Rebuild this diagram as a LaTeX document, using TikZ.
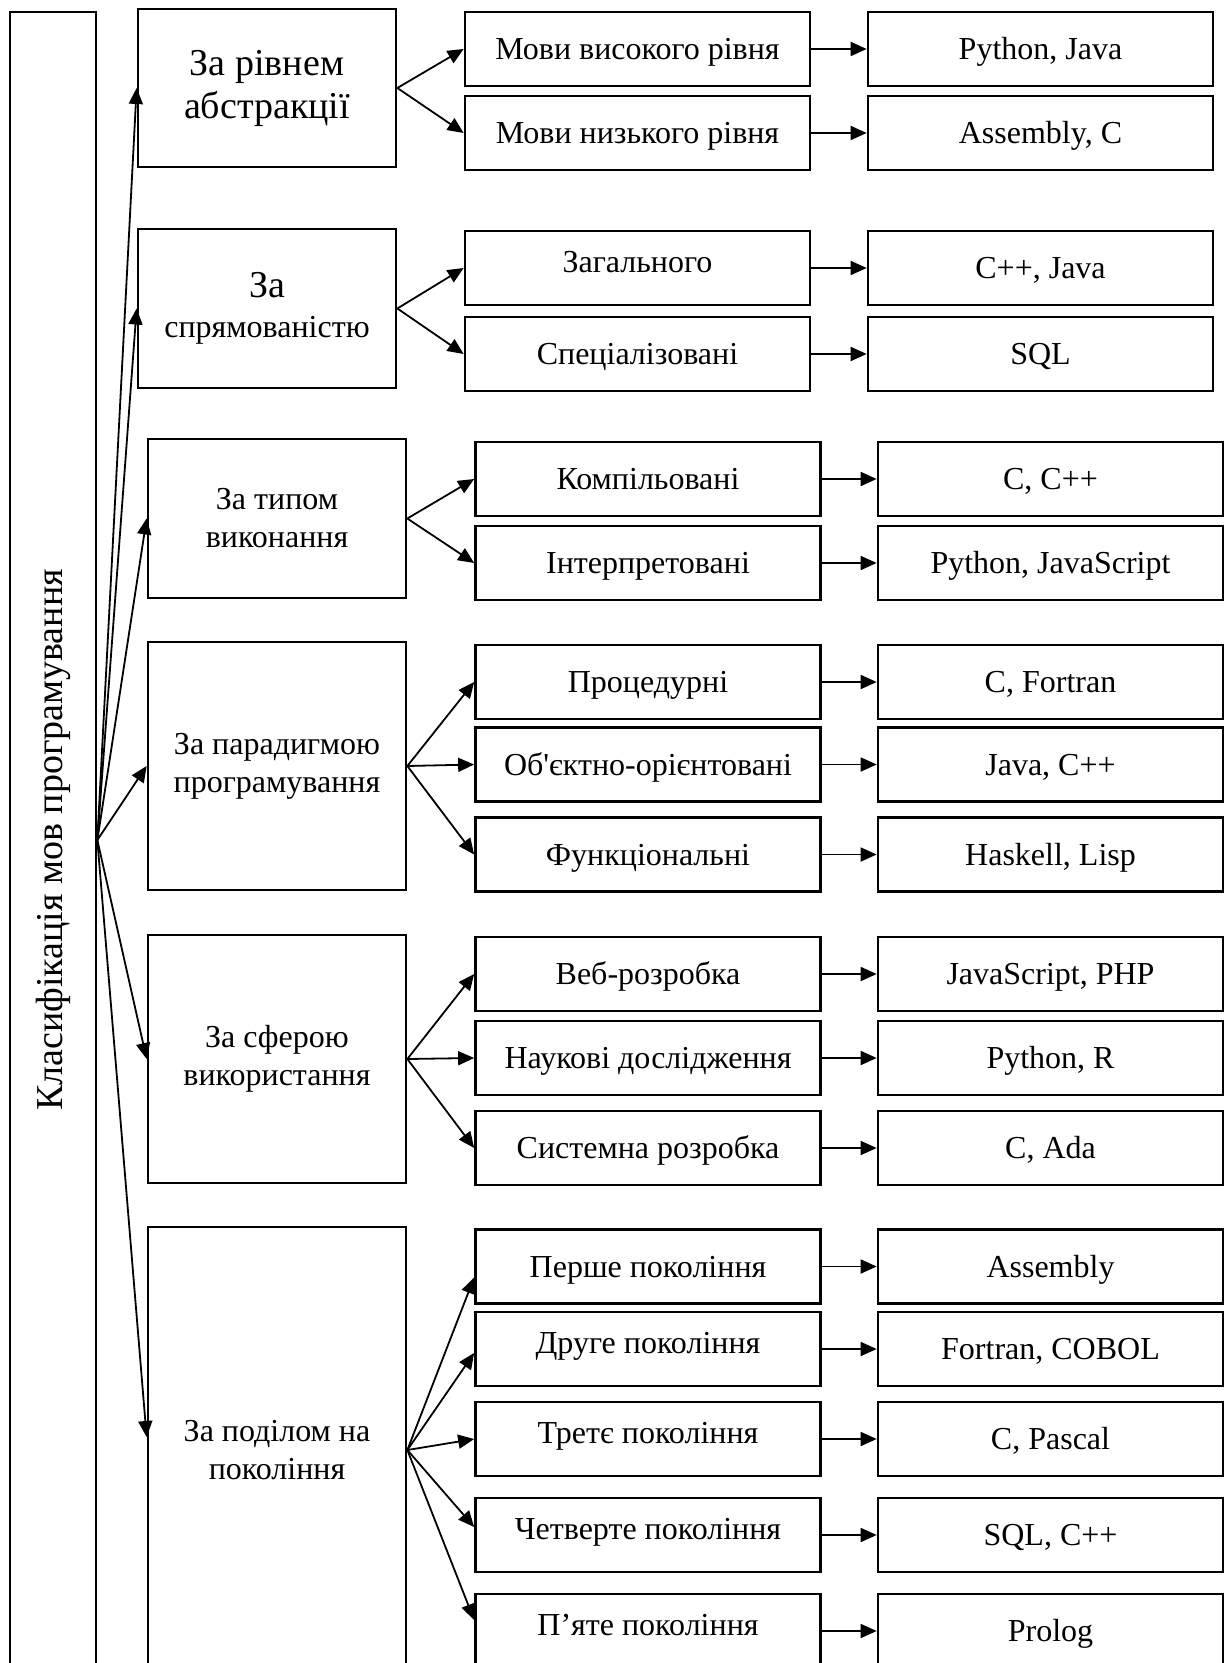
\documentclass[tikz,border=0pt]{standalone}
\usepackage{fontspec}
\setmainfont{Liberation Serif}[Ligatures=TeXOff]
\usetikzlibrary{arrows.meta}
\newcommand\mysmallfont{\fontsize{16pt}{19pt}\selectfont}
\newcommand\mybigfont{\fontsize{19pt}{21.5pt}\selectfont}
\begin{document}
\begin{tikzpicture}[x=0.5pt,y=-0.5pt,
  box/.style={draw, line width=1.35pt, inner sep=0pt, align=center, font=\mysmallfont},
  cat/.style={box, minimum width=129pt},
  leaf/.style={box, minimum width=172.5pt, minimum height=37pt, text height=10.9pt, text depth=0pt},
  textup/.style={text depth=6.5pt},
  arr/.style={line width=0.9pt, -{Triangle[length=8pt,width=7pt]}}]
\useasboundingbox (0,0) rectangle (1225,1663);
\clip (0,0) rectangle (1225,1663);
% main box
\node[box, minimum width=43pt, minimum height=828pt] (main) at (53,840) {};
\node[rotate=90, font=\mybigfont, inner sep=0pt] (title) at (main.center) {Класифікація мов програмування};
% group 1
\node[cat, minimum height=79pt, font=\mybigfont] (g1) at (267,88) {За рівнем\\абстракції};
\node[leaf] (g1a) at (637.5,49) {Мови високого рівня};
\node[leaf] (g1b) at (637.5,133) {Мови низького рівня};
\node[leaf] (g1ax) at (1040.5,49) {Python, Java};
\node[leaf] (g1bx) at (1040.5,133) {Assembly, C};
% group 2
\node[cat, minimum height=79.5pt, font=\mybigfont] (g2) at (267,308.5) {За\\[-1.5pt]{\mysmallfont спрямованістю}};
\node[leaf, textup] (g2a) at (637.5,268) {Загального};
\node[leaf] (g2b) at (637.5,354) {Спеціалізовані};
\node[leaf] (g2ax) at (1040.5,268) {C++, Java};
\node[leaf] (g2bx) at (1040.5,354) {SQL};
% group 3
\node[cat, minimum height=79.5pt] (g3) at (277,518.5) {За типом\\виконання};
\node[leaf] (g3a) at (648,479) {Компільовані};
\node[leaf] (g3b) at (648,563) {Інтерпретовані};
\node[leaf] (g3ax) at (1050.5,479) {C, C++};
\node[leaf] (g3bx) at (1050.5,563) {Python, JavaScript};
% group 4
\node[cat, minimum height=124pt] (g4) at (277,766) {За парадигмою\\програмування};
\node[leaf] (g4a) at (648,682) {Процедурні};
\node[leaf] (g4b) at (648,764.5) {Об'єктно-орієнтовані};
\node[leaf] (g4c) at (648,854.5) {Функціональні};
\node[leaf] (g4ax) at (1050.5,682) {C, Fortran};
\node[leaf] (g4bx) at (1050.5,764.5) {Java, C++};
\node[leaf] (g4cx) at (1050.5,854.5) {Haskell, Lisp};
% group 5
\node[cat, minimum height=124pt] (g5) at (277,1059) {За сферою\\використання};
\node[leaf] (g5a) at (648,974) {Веб-розробка};
\node[leaf] (g5b) at (648,1058) {Наукові дослідження};
\node[leaf] (g5c) at (648,1148) {Системна розробка};
\node[leaf] (g5ax) at (1050.5,974) {JavaScript, PHP};
\node[leaf] (g5bx) at (1050.5,1058) {Python, R};
\node[leaf] (g5cx) at (1050.5,1148) {C, Ada};
% group 6
\node[cat, minimum height=223pt] (g6) at (277,1450) {За поділом на\\покоління};
\node[leaf] (g6a) at (648,1266.5) {Перше покоління};
\node[leaf, textup] (g6b) at (648,1349) {Друге покоління};
\node[leaf, textup] (g6c) at (648,1439) {Третє покоління};
\node[leaf, textup] (g6d) at (648,1535) {Четверте покоління};
\node[leaf, textup] (g6e) at (648,1631) {П’яте покоління};
\node[leaf] (g6ax) at (1050.5,1266.5) {Assembly};
\node[leaf] (g6bx) at (1050.5,1349) {Fortran, COBOL};
\node[leaf] (g6cx) at (1050.5,1439) {C, Pascal};
\node[leaf] (g6dx) at (1050.5,1535) {SQL, C++};
\node[leaf] (g6ex) at (1050.5,1631) {Prolog};
% main connectors
\draw[arr] (main.east) -- (g1.west);
\draw[arr] (main.east) -- (g2.west);
\draw[arr] (main.east) -- (g3.west);
\draw[arr] (main.east) -- (g4.west);
\draw[arr] (main.east) -- (g5.west);
\draw[arr] (main.east) -- ([yshift=6.5pt]g6.west);
% category connectors
\draw[arr] (g1.east) -- (g1a.west);
\draw[arr] (g1.east) -- (g1b.west);
\draw[arr] (g2.east) -- (g2a.west);
\draw[arr] (g2.east) -- (g2b.west);
\draw[arr] (g3.east) -- (g3a.west);
\draw[arr] (g3.east) -- (g3b.west);
\draw[arr] (g4.east) -- (g4a.west);
\draw[arr] (g4.east) -- (g4b.west);
\draw[arr] (g4.east) -- (g4c.west);
\draw[arr] (g5.east) -- (g5a.west);
\draw[arr] (g5.east) -- (g5b.west);
\draw[arr] (g5.east) -- (g5c.west);
\draw[arr] (g6.east) -- ([yshift=-5.5pt]g6a.west);
\draw[arr] (g6.east) -- ([yshift=-2pt]g6b.west);
\draw[arr] (g6.east) -- (g6c.west);
\draw[arr] (g6.east) -- ([yshift=4pt]g6d.west);
\draw[arr] (g6.east) -- ([yshift=5.5pt]g6e.west);
% example connectors
\foreach \n in {g1a,g1b,g2a,g2b,g3a,g3b,g4a,g4b,g4c,g5a,g5b,g5c,g6a,g6b,g6c,g6d,g6e}
  \draw[arr] (\n.east) -- (\n x.west);
\end{tikzpicture}
\end{document}
